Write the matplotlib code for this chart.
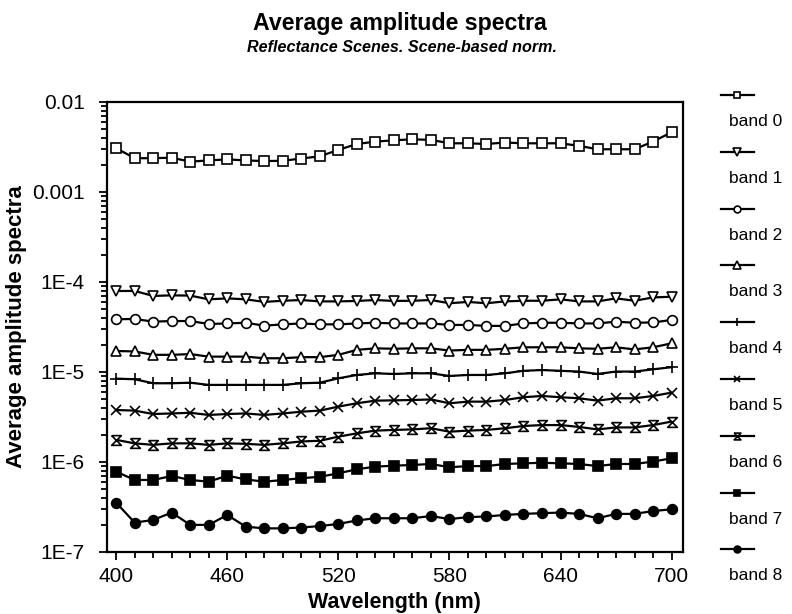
import matplotlib.pyplot as plt
import matplotlib.ticker as mticker
from matplotlib.lines import Line2D
from matplotlib.path import Path

plt.rcParams['font.family'] = ['Liberation Sans', 'DejaVu Sans']

wavelength = list(range(400, 701, 10))

band0 = [3.06e-3, 2.37e-3, 2.37e-3, 2.40e-3, 2.17e-3, 2.24e-3, 2.30e-3, 2.24e-3, 2.20e-3, 2.22e-3,
         2.35e-3, 2.49e-3, 2.93e-3, 3.41e-3, 3.62e-3, 3.75e-3, 3.84e-3, 3.79e-3, 3.47e-3, 3.47e-3,
         3.41e-3, 3.54e-3, 3.47e-3, 3.47e-3, 3.47e-3, 3.25e-3, 2.98e-3, 2.98e-3, 2.98e-3, 3.63e-3, 4.60e-3]
band1 = [7.94e-5, 7.94e-5, 6.99e-5, 7.10e-5, 7.05e-5, 6.41e-5, 6.57e-5, 6.41e-5, 6.00e-5, 6.18e-5,
         6.30e-5, 6.08e-5, 6.08e-5, 6.15e-5, 6.30e-5, 6.15e-5, 6.18e-5, 6.30e-5, 5.80e-5, 6.00e-5,
         5.80e-5, 6.08e-5, 6.18e-5, 6.18e-5, 6.41e-5, 6.08e-5, 6.08e-5, 6.57e-5, 6.18e-5, 6.73e-5, 6.85e-5]
band2 = [3.85e-5, 3.88e-5, 3.62e-5, 3.68e-5, 3.68e-5, 3.41e-5, 3.46e-5, 3.52e-5, 3.27e-5, 3.38e-5,
         3.46e-5, 3.38e-5, 3.38e-5, 3.46e-5, 3.52e-5, 3.46e-5, 3.46e-5, 3.46e-5, 3.33e-5, 3.33e-5,
         3.25e-5, 3.25e-5, 3.46e-5, 3.52e-5, 3.52e-5, 3.46e-5, 3.46e-5, 3.62e-5, 3.52e-5, 3.55e-5, 3.78e-5]
band3 = [1.71e-5, 1.69e-5, 1.55e-5, 1.55e-5, 1.58e-5, 1.48e-5, 1.48e-5, 1.48e-5, 1.42e-5, 1.42e-5,
         1.46e-5, 1.46e-5, 1.55e-5, 1.76e-5, 1.83e-5, 1.81e-5, 1.83e-5, 1.83e-5, 1.73e-5, 1.76e-5,
         1.76e-5, 1.81e-5, 1.88e-5, 1.88e-5, 1.88e-5, 1.83e-5, 1.81e-5, 1.88e-5, 1.78e-5, 1.88e-5, 2.08e-5]
band4 = [8.43e-6, 8.30e-6, 7.49e-6, 7.49e-6, 7.60e-6, 7.18e-6, 7.18e-6, 7.18e-6, 7.18e-6, 7.18e-6,
         7.49e-6, 7.60e-6, 8.50e-6, 9.26e-6, 9.66e-6, 9.50e-6, 9.66e-6, 9.66e-6, 9.03e-6, 9.26e-6,
         9.26e-6, 9.66e-6, 1.03e-5, 1.05e-5, 1.03e-5, 1.01e-5, 9.50e-6, 1.01e-5, 1.01e-5, 1.07e-5, 1.13e-5]
band5 = [3.78e-6, 3.72e-6, 3.41e-6, 3.46e-6, 3.52e-6, 3.33e-6, 3.41e-6, 3.46e-6, 3.33e-6, 3.46e-6,
         3.62e-6, 3.72e-6, 4.12e-6, 4.49e-6, 4.80e-6, 4.84e-6, 4.88e-6, 4.95e-6, 4.49e-6, 4.68e-6,
         4.68e-6, 4.88e-6, 5.24e-6, 5.41e-6, 5.24e-6, 5.10e-6, 4.80e-6, 5.10e-6, 5.10e-6, 5.41e-6, 5.89e-6]
band6 = [1.76e-6, 1.61e-6, 1.55e-6, 1.61e-6, 1.61e-6, 1.55e-6, 1.61e-6, 1.59e-6, 1.55e-6, 1.61e-6,
         1.69e-6, 1.72e-6, 1.91e-6, 2.08e-6, 2.23e-6, 2.27e-6, 2.30e-6, 2.37e-6, 2.17e-6, 2.23e-6,
         2.27e-6, 2.37e-6, 2.51e-6, 2.57e-6, 2.57e-6, 2.45e-6, 2.30e-6, 2.42e-6, 2.42e-6, 2.57e-6, 2.81e-6]
band7 = [7.81e-7, 6.31e-7, 6.31e-7, 6.99e-7, 6.31e-7, 6.04e-7, 7.05e-7, 6.40e-7, 6.04e-7, 6.31e-7,
         6.60e-7, 6.85e-7, 7.48e-7, 8.30e-7, 8.87e-7, 9.10e-7, 9.26e-7, 9.50e-7, 8.74e-7, 9.00e-7,
         9.00e-7, 9.50e-7, 9.66e-7, 9.80e-7, 9.66e-7, 9.50e-7, 9.00e-7, 9.50e-7, 9.50e-7, 1.01e-6, 1.10e-6]
band8 = [3.53e-7, 2.12e-7, 2.27e-7, 2.74e-7, 2.00e-7, 2.00e-7, 2.58e-7, 1.91e-7, 1.83e-7, 1.83e-7,
         1.87e-7, 1.94e-7, 2.05e-7, 2.24e-7, 2.37e-7, 2.37e-7, 2.37e-7, 2.51e-7, 2.32e-7, 2.44e-7,
         2.48e-7, 2.58e-7, 2.65e-7, 2.70e-7, 2.74e-7, 2.65e-7, 2.37e-7, 2.65e-7, 2.65e-7, 2.85e-7, 2.98e-7]

bands = [band0, band1, band2, band3, band4, band5, band6, band7, band8]
labels = ["band 0", "band 1", "band 2", "band 3", "band 4", "band 5", "band 6", "band 7", "band 8"]

yticks = [1e-7, 1e-6, 1e-5, 1e-4, 1e-3, 1e-2]
ytick_labels = ["1E-7", "1E-6", "1E-5", "1E-4", "0.001", "0.01"]
xticks = [400, 460, 520, 580, 640, 700]

hourglass = Path([(-1, 1), (1, 1), (-1, -1), (1, -1), (-1, 1)])
markers = ['s', 'v', 'o', '^', '+', 'x', hourglass, 's', 'o']
faces = ['white', 'white', 'white', 'white', 'black', 'black', 'white', 'black', 'black']
sizes = [7, 7.5, 7, 7.5, 8, 7, 7, 7, 7]

fig = plt.figure(figsize=(7.92, 6.14), dpi=100)
ax = fig.add_axes([0.135, 0.101, 0.727, 0.733])

for vals, m, fc, ms in zip(bands, markers, faces, sizes):
    ax.plot(wavelength, vals, color='black', lw=1.6, marker=m, mfc=fc, ms=ms,
            mec='black', mew=1.2)

ax.set_yscale('log')
ax.set_ylim(1e-7, 1e-2)
ax.set_xlim(395, 706)
ax.set_yticks(yticks)
ax.set_yticklabels(ytick_labels)
ax.set_xticks(xticks)
ax.xaxis.set_minor_locator(mticker.MultipleLocator(10))
ax.yaxis.set_minor_locator(mticker.LogLocator(base=10, subs=range(2, 10)))
ax.yaxis.set_minor_formatter(mticker.NullFormatter())
ax.tick_params(which='both', direction='out', width=1.3, labelsize=15)
ax.tick_params(which='major', length=6)
ax.tick_params(which='minor', length=4)
ax.tick_params(axis='y', pad=10)
ax.tick_params(axis='x', pad=5)
for s in ax.spines.values():
    s.set_linewidth(1.6)

ax.set_xlabel("Wavelength (nm)", fontsize=15.5, fontweight='bold', labelpad=4)
ax.set_ylabel("Average amplitude spectra", fontsize=16, fontweight='bold', labelpad=4)

fig.text(0.505, 0.962, "Average amplitude spectra", ha='center', va='center',
         fontsize=16.7, fontweight='bold')
fig.text(0.507, 0.922, "Reflectance Scenes. Scene-based norm.", ha='center', va='center',
         fontsize=11.6, fontweight='bold', style='italic')

# legend drawn by hand: small handle on one row, label on the next
for i, (lab, m, fc, ms) in enumerate(zip(labels, markers, faces, sizes)):
    yh = 1 - (95 + i * 56.8) / 614
    yt = 1 - (121.5 + i * 56.8) / 614
    fig.add_artist(Line2D([721 / 792, 737 / 792, 754 / 792], [yh, yh, yh],
                          transform=fig.transFigure, color='black', lw=1.6,
                          marker=m, mfc=fc, ms=ms * 0.7, mec='black', mew=1.2,
                          markevery=[1]))
    fig.text(729 / 792, yt, lab, ha='left', va='center', fontsize=12.5)

fig.savefig("out.png", dpi=100)
